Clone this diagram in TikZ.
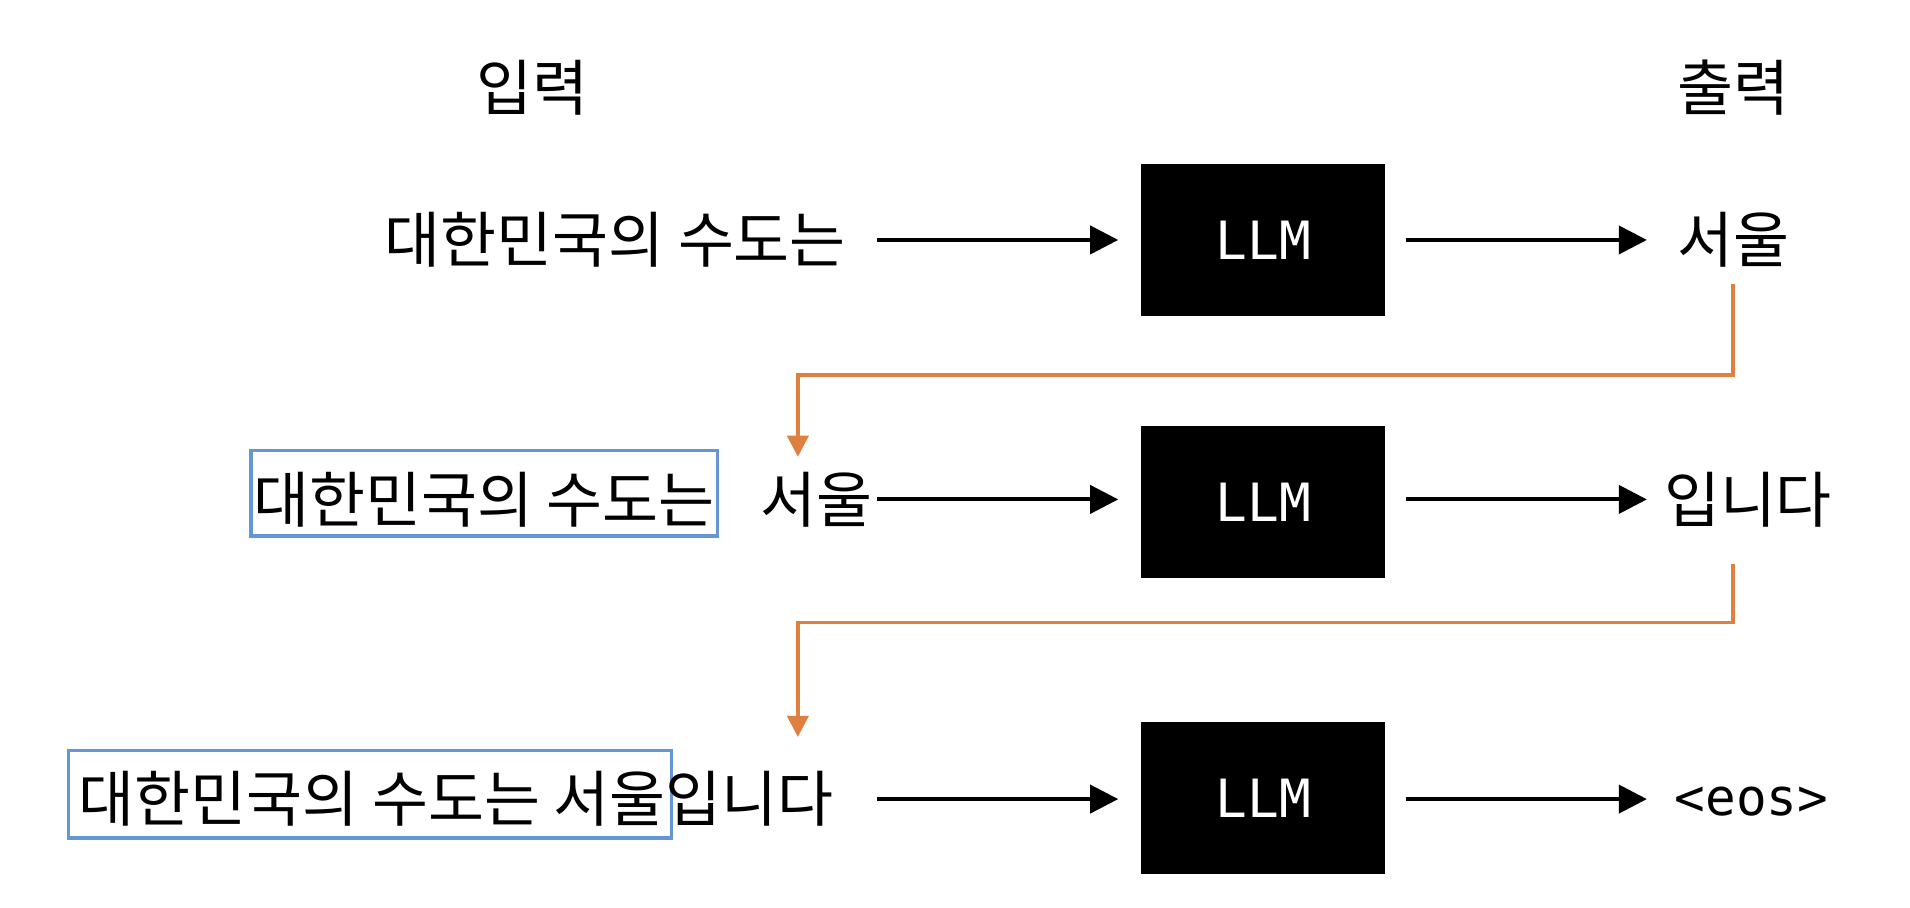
\documentclass[tikz,border=0pt]{standalone}
\usepackage{fontspec}
\setmainfont{Noto Sans CJK KR}
\newfontfamily\llmfont{DejaVu Sans Mono}
\usetikzlibrary{arrows.meta,positioning}
\definecolor{feedorange}{RGB}{224,128,64}
\definecolor{boxblue}{RGB}{100,150,215}
\tikzset{
  word/.style={inner sep=0pt, font=\fontsize{17.3}{20}\selectfont},
  llm/.style={fill=black, minimum width=2.44cm, minimum height=1.52cm, inner sep=0pt,
    text=white, font=\llmfont\fontsize{15}{17}\selectfont},
  flow/.style={draw=black, line width=1.1pt, -{Triangle[length=8pt,width=8pt]}},
  feed/.style={draw=feedorange, line width=1.1pt, -{Triangle[length=6pt,width=6pt]}},
  ctx/.style={draw=boxblue, line width=0.9pt, inner sep=0pt}
}
\begin{document}
\begin{tikzpicture}[x=0.01218cm, y=-0.01218cm]
            \useasboundingbox (0,0) rectangle (1568,745);
            % headers
            \node[word] (in) at (437,72) {입력};
            \node[word] (out) at (1423,72) {출력};
            % row 1
            \node[word, anchor=east] (q1) at (695,197) {대한민국의 수도는};
            \node[llm] (m1) at (1037,197) {LLM};
            \node[word] (a1) at (1423,197) {서울};
            \coordinate (s1) at (720,197);
            \coordinate (t1) at (918,197);
            \coordinate (e1) at (1154,197);
            \coordinate (u1) at (1352,197);
            \draw[flow] (s1) -- (t1);
            \draw[flow] (e1) -- (u1);
            % row 2
            \node[ctx, minimum width=383*0.01218cm, minimum height=70*0.01218cm] (c2) at (397.5,405) {};
            \node[word] (q2a) at (397.5,410) {대한민국의 수도는};
            \node[word] (q2b) at (670,410) {서울};
            \node[llm] (m2) at (1037,412) {LLM};
            \node[word] (a2) at (1435,410) {입니다};
            \coordinate (s2) at (720,410);
            \coordinate (t2) at (918,410);
            \coordinate (e2) at (1154,410);
            \coordinate (u2) at (1352,410);
            \draw[flow] (s2) -- (t2);
            \draw[flow] (e2) -- (u2);
            % row 3
            \node[ctx, minimum width=495*0.01218cm, minimum height=72*0.01218cm] (c3) at (303.5,652) {};
            \node[word, anchor=west] (q3) at (64,656) {대한민국의 수도는 서울입니다};
            \node[llm] (m3) at (1037,655) {LLM};
            \node[word, font=\llmfont\fontsize{14.5}{17}\selectfont] (a3) at (1438,658) {<eos>};
            \coordinate (s3) at (720,656);
            \coordinate (t3) at (918,656);
            \coordinate (e3) at (1154,656);
            \coordinate (u3) at (1352,656);
            \draw[flow] (s3) -- (t3);
            \draw[flow] (e3) -- (u3);
            % feedback
            \coordinate (f1) at (1423,233);
            \coordinate (f2) at (1423,463);
            \draw[feed] (f1) -- (1423,308) -- (655,308) -- (655,375);
            \draw[feed] (f2) -- (1423,511) -- (655,511) -- (655,605);
        \end{tikzpicture}
\end{document}
